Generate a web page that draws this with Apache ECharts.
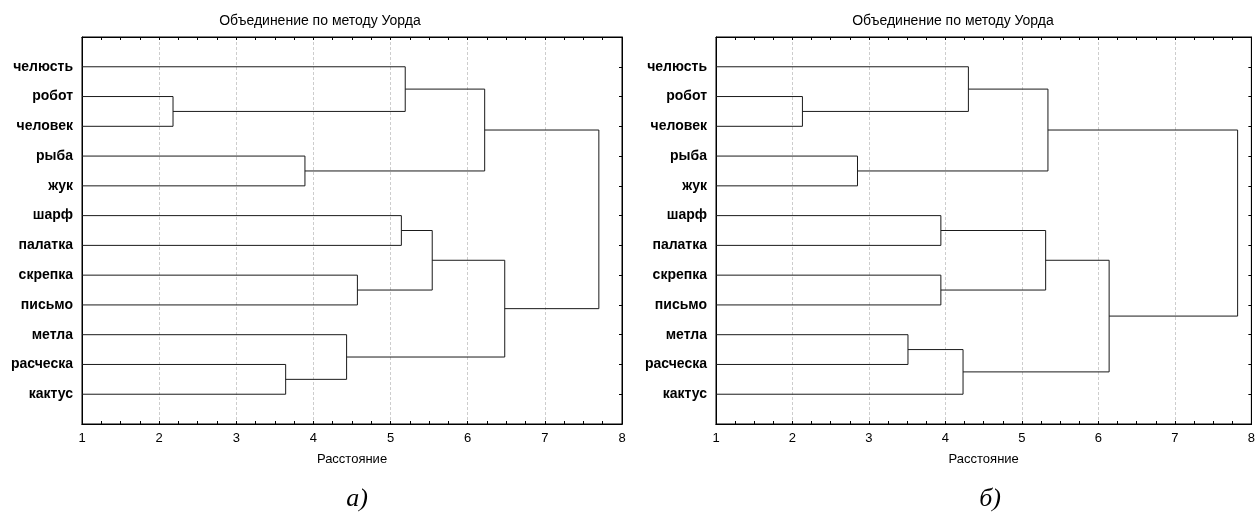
<!DOCTYPE html>
<html>
<head>
<meta charset="utf-8">
<script src="https://cdn.jsdelivr.net/npm/echarts@6/dist/echarts.min.js"></script>
<style>
html,body{margin:0;padding:0;background:#fff;}
#chart{width:1258px;height:517px;}
</style>
</head>
<body>
<div id="chart"></div>
<script>
// ---- data ----
const leaves = ['челюсть','робот','человек','рыба','жук','шарф','палатка','скрепка','письмо','метла','расческа','кактус'];
const xTicks = [1,2,3,4,5,6,7,8];
const chartTitle = 'Объединение по методу Уорда';
const xName = 'Расстояние';
const captions = ['а)', 'б)'];
// Chart a): merge steps (child indices: 0..11 leaves, 12+ earlier merges)
const childA_a = [1, 0, 3, 13, 5, 7, 16, 10, 9, 18, 15];
const childB_a = [2, 12, 4, 14, 6, 8, 17, 11, 19, 20, 21];
const height_a = [2.18, 5.19, 3.89, 6.22, 5.14, 4.57, 5.54, 3.64, 4.43, 6.48, 7.70];
// Chart б)
const childA_b = [1, 0, 3, 13, 5, 7, 16, 9, 19, 18, 15];
const childB_b = [2, 12, 4, 14, 6, 8, 17, 10, 11, 20, 21];
const height_b = [2.13, 4.30, 2.85, 5.34, 3.94, 3.94, 5.31, 3.51, 4.23, 6.14, 7.82];

const xMin = 1, xMax = 8;

function buildSeries(cA, cB, hs, g) {
  const n = leaves.length;
  const pos = [], hgt = [];
  for (let i = 0; i < n; i++) { pos[i] = i + 1; hgt[i] = xMin; }
  const series = [];
  for (let k = 0; k < hs.length; k++) {
    const a = cA[k], b = cB[k], h = hs[k];
    pos[n + k] = (pos[a] + pos[b]) / 2;
    hgt[n + k] = h;
    series.push({
      type: 'line', xAxisIndex: g * 3, yAxisIndex: g * 2,
      data: [[hgt[a], pos[a]], [h, pos[a]], [h, pos[b]], [hgt[b], pos[b]]],
      symbol: 'none', silent: true, animation: false,
      lineStyle: { color: '#1a1a1a', width: 1 }
    });
  }
  return series;
}

const font = 'Liberation Sans, Arial, sans-serif';
const grids = [
  { left: 82, top: 37, width: 540, height: 387, show: true, borderColor: '#000', borderWidth: 1, backgroundColor: 'transparent' },
  { left: 716, top: 37, width: 539, height: 387, show: true, borderColor: '#000', borderWidth: 1, backgroundColor: 'transparent' }
];

function xAxes(g) {
  const tickAxis = (position) => ({
    type: 'value', gridIndex: g, min: xMin, max: xMax, interval: 0.25, position: position,
    axisLine: { show: true, onZero: false, lineStyle: { color: '#000', width: 1 } },
    axisTick: { show: true, inside: true, length: 3, lineStyle: { color: '#000' } },
    axisLabel: { show: false }, splitLine: { show: false }
  });
  return [
    { type: 'value', gridIndex: g, min: xMin, max: xMax, interval: 1, position: 'bottom',
      name: xName, nameLocation: 'middle', nameGap: 29,
      nameTextStyle: { fontFamily: font, fontSize: 13, color: '#000' },
      axisLine: { show: true, onZero: false, lineStyle: { color: '#000', width: 1 } },
      axisTick: { show: false },
      axisLabel: { fontFamily: font, fontSize: 13, color: '#000', margin: 8,
        formatter: v => xTicks.indexOf(v) >= 0 ? String(v) : '' },
      splitLine: { show: true, lineStyle: { type: [3, 2], color: '#cdcdcd', width: 1 } } },
    tickAxis('bottom'),
    tickAxis('top')
  ];
}
function yAxes(g) {
  return [
    { type: 'value', gridIndex: g, min: 0, max: leaves.length + 1, interval: 1, inverse: true, position: 'left',
      axisLine: { show: true, onZero: false, lineStyle: { color: '#000', width: 1 } },
      axisTick: { show: false },
      axisLabel: { fontFamily: font, fontSize: 14, fontWeight: 'bold', color: '#000', margin: 9,
        formatter: v => leaves[v - 1] || '' },
      splitLine: { show: false } },
    { type: 'value', gridIndex: g, min: 0, max: leaves.length + 1, interval: 1, inverse: true, position: 'right',
      axisLine: { show: true, onZero: false, lineStyle: { color: '#000', width: 1 } },
      axisTick: { show: true, inside: true, length: 3, lineStyle: { color: '#000' } },
      axisLabel: { show: false }, splitLine: { show: false } }
  ];
}

const option = {
  backgroundColor: '#fff',
  animation: false,
  title: [
    { text: chartTitle, left: 315, top: 9, textAlign: 'center',
      textStyle: { fontFamily: font, fontSize: 14, fontWeight: 'normal', color: '#000' } },
    { text: chartTitle, left: 948, top: 9, textAlign: 'center',
      textStyle: { fontFamily: font, fontSize: 14, fontWeight: 'normal', color: '#000' } },
    { text: captions[0], left: 352, top: 481, textAlign: 'center',
      textStyle: { fontFamily: 'Liberation Serif, Times New Roman, serif', fontSize: 26, fontStyle: 'italic', fontWeight: 'normal', color: '#000' } },
    { text: captions[1], left: 985, top: 481, textAlign: 'center',
      textStyle: { fontFamily: 'Liberation Serif, Times New Roman, serif', fontSize: 26, fontStyle: 'italic', fontWeight: 'normal', color: '#000' } }
  ],
  grid: grids,
  xAxis: xAxes(0).concat(xAxes(1)),
  yAxis: yAxes(0).concat(yAxes(1)),
  series: buildSeries(childA_a, childB_a, height_a, 0).concat(buildSeries(childA_b, childB_b, height_b, 1))
};

const chart = echarts.init(document.getElementById('chart'), null, { renderer: 'canvas' });
chart.setOption(option);
</script>
</body>
</html>
